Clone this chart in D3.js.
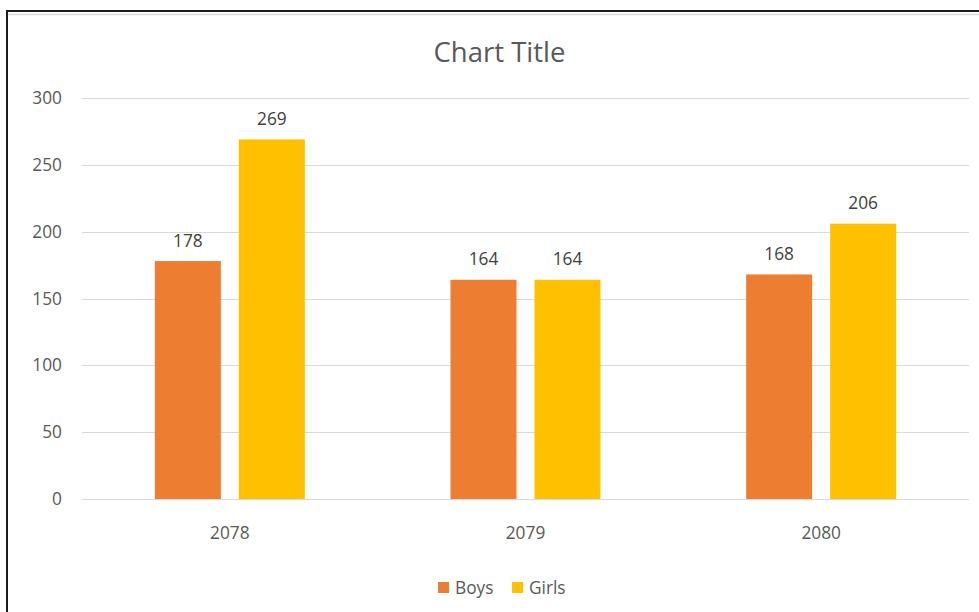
<!DOCTYPE html>
<html><head><meta charset="utf-8">
<script src="https://cdn.jsdelivr.net/npm/d3@7"></script>
<style>body{margin:0;background:#fff;} svg{display:block;font-family:"Open Sans",sans-serif;}</style>
</head><body>
<svg id="c" width="979" height="612"></svg>
<script>
const categories = ["2078", "2079", "2080"];
const seriesNames = ["Boys", "Girls"];
const boys = [178, 164, 168];
const girls = [269, 164, 206];
const yTicks = [0, 50, 100, 150, 200, 250, 300];
const colors = ["#ED7D31", "#FFC000"];

const svg = d3.select("#c");
// frame
svg.append("rect").attr("x",0).attr("y",0).attr("width",979).attr("height",612).attr("fill","#fff");
svg.append("line").attr("x1",8).attr("x2",979).attr("y1",14.5).attr("y2",14.5).attr("stroke","#d9d9d9").attr("stroke-width",1.5);
svg.append("line").attr("x1",7).attr("x2",7).attr("y1",10).attr("y2",612).attr("stroke","#1a1a1a").attr("stroke-width",2);
svg.append("line").attr("x1",6).attr("x2",979).attr("y1",11).attr("y2",11).attr("stroke","#1a1a1a").attr("stroke-width",2);

const x0 = d3.scaleBand().domain(categories).range([82, 969]).padding(0);
const x1 = d3.scaleBand().domain(seriesNames).range([0, x0.bandwidth()]).paddingInner(0.2143).paddingOuter(0.867);
const y = d3.scaleLinear().domain([0, 300]).range([499, 98]);

const fs = "17.3px";

// gridlines
svg.append("g").selectAll("line").data(yTicks).join("line")
  .attr("x1", 82).attr("x2", 969)
  .attr("y1", d => Math.round(y(d)) + 0.5).attr("y2", d => Math.round(y(d)) + 0.5)
  .attr("stroke", "#d9d9d9").attr("stroke-width", 1);

// y axis labels
const yAxis = d3.axisLeft(y).tickValues(yTicks).tickSize(0).tickPadding(0);
const gy = svg.append("g").attr("transform", "translate(62,0)").call(yAxis);
gy.select(".domain").remove();
gy.selectAll("text").attr("fill", "#595959").style("font-size", fs).style("font-family", "'Open Sans',sans-serif");

// x axis labels
const xAxis = d3.axisBottom(x0).tickSize(0).tickPadding(0);
const gx = svg.append("g").attr("transform", "translate(0,527)").call(xAxis);
gx.select(".domain").remove();
gx.selectAll("text").attr("fill", "#595959").style("font-size", fs).style("font-family", "'Open Sans',sans-serif");

const data = categories.map((c, i) => ({cat: c, vals: [{s: "Boys", v: boys[i]}, {s: "Girls", v: girls[i]}]}));

const groups = svg.append("g").selectAll("g").data(data).join("g")
  .attr("transform", d => `translate(${x0(d.cat)},0)`);
groups.selectAll("rect").data(d => d.vals).join("rect")
  .attr("x", d => x1(d.s)).attr("width", x1.bandwidth())
  .attr("y", d => y(d.v)).attr("height", d => y(0) - y(d.v))
  .attr("fill", (d, i) => colors[i]);
groups.selectAll("text").data(d => d.vals).join("text")
  .attr("x", d => x1(d.s) + x1.bandwidth() / 2)
  .attr("y", d => y(d.v) - 14.5)
  .attr("text-anchor", "middle")
  .attr("fill", "#404040").style("font-size", fs)
  .text(d => d.v);

// title
svg.append("text").attr("x", 499.5).attr("y", 61.5).attr("text-anchor", "middle")
  .attr("fill", "#595959").style("font-size", "27.5px").text("Chart Title");

// legend
const legX = [438, 512];
const leg = svg.append("g").selectAll("g").data(seriesNames).join("g")
  .attr("transform", (d, i) => `translate(${legX[i]},582)`);
leg.append("rect").attr("width", 11).attr("height", 11).attr("fill", (d, i) => colors[i]);
leg.append("text").attr("x", 17).attr("y", 11.5).attr("fill", "#595959").style("font-size", fs).text(d => d);
</script>
</body></html>
